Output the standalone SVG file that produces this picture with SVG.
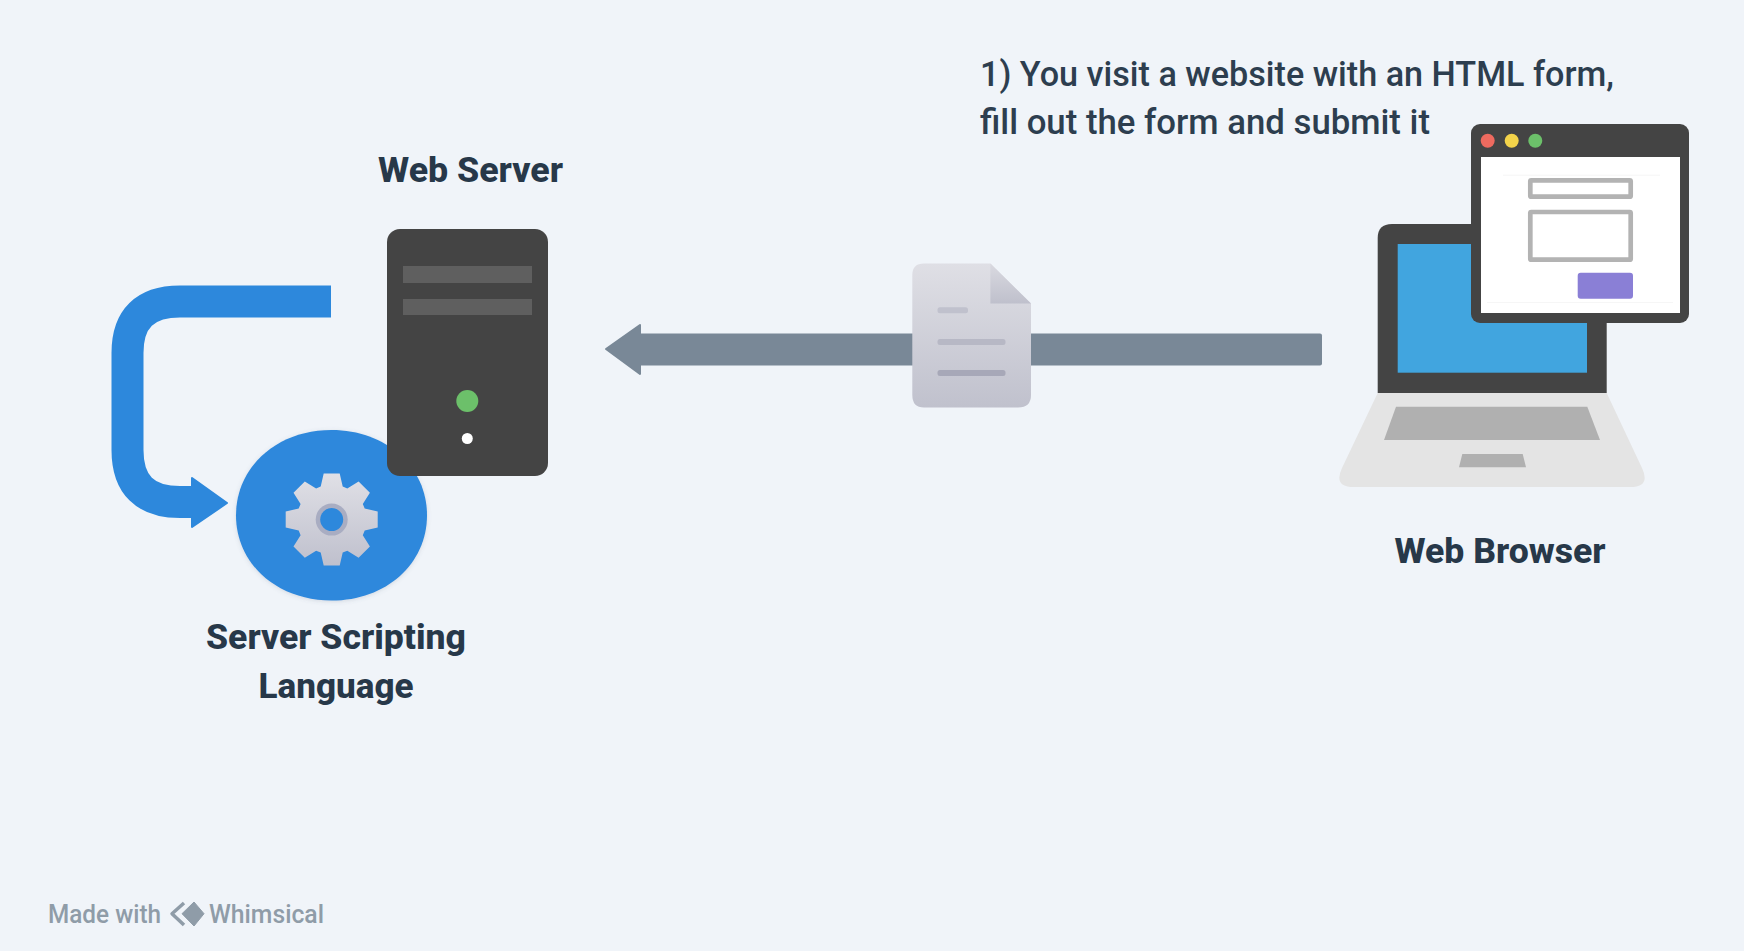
<svg xmlns="http://www.w3.org/2000/svg" width="1744" height="951" viewBox="0 0 1744 951">
<style>
text{font-family:"Roboto","Liberation Sans",sans-serif}
.lbl{font-size:35px;font-weight:800;fill:#273849;text-anchor:middle}
.note{font-size:35px;font-weight:500;fill:#2d3e4f}
.foot{font-size:25px;font-weight:500;fill:#8f9ca8}
.dark{fill:#444444}
.gray{fill:#b0b0b0}
.field{fill:#ffffff;stroke:#b3b3b3;stroke-width:4.7}
.bar{fill:#5f5f5f}
</style>
<defs>
<linearGradient id="gGear" x1="0" y1="0" x2="0" y2="1"><stop offset="0" stop-color="#e0e0e6"/><stop offset="1" stop-color="#bfc0cd"/></linearGradient>
<linearGradient id="gDoc" x1="0" y1="0" x2="0" y2="1"><stop offset="0" stop-color="#dfdfe5"/><stop offset="1" stop-color="#c0c1cd"/></linearGradient>
<linearGradient id="gFold" x1="0" y1="0" x2="0" y2="1"><stop offset="0" stop-color="#d9d9e0"/><stop offset="1" stop-color="#bfc0cc"/></linearGradient>
<filter id="soft" x="-10%" y="-10%" width="120%" height="120%"><feDropShadow dx="0" dy="1" stdDeviation="2" flood-color="#5a6a80" flood-opacity="0.2"/></filter>
</defs>
<rect width="1744" height="951" fill="#f0f4f9"/>
<g id="connectors">
<path d="M331,301.5 H180 Q127.5,301.5 127.5,353 V450 Q127.5,502 180,502 H200" fill="none" stroke="#2d88dc" stroke-width="32"/>
<polygon points="192,478 227,503 192,527" fill="#2d88dc" stroke="#2d88dc" stroke-width="2" stroke-linejoin="round"/>
<rect x="638" y="333.5" width="684" height="32" rx="2" fill="#798897"/>
<polygon points="640,325 606,349 640,374" fill="#798897" stroke="#798897" stroke-width="2" stroke-linejoin="round"/>
</g>
<g id="script-language">
<path d="M331.5,430 C386,430 427,466.7 427,515.3 C427,564 386,600.6 331.5,600.6 C277,600.6 236,564 236,515.3 C236,466.7 277,430 331.5,430Z" fill="#2d88dc" filter="url(#soft)"/>
<path transform="translate(331.7,519.6)" fill="url(#gGear)" d="M33,-11 46,-8 46,8 33,11 31.1,15.6 38.2,26.9 26.9,38.2 15.6,31.1 11,33 8,46 -8,46 -11,33 -15.6,31.1 -26.9,38.2 -38.2,26.9 -31.1,15.6 -33,11 -46,8 -46,-8 -33,-11 -31.1,-15.6 -38.2,-26.9 -26.9,-38.2 -15.6,-31.1 -11,-33 -8,-46 8,-46 11,-33 15.6,-31.1 26.9,-38.2 38.2,-26.9 31.1,-15.6Z"/>
<ellipse cx="331.7" cy="519.6" rx="16" ry="16" fill="#a9adc2"/>
<ellipse cx="331.7" cy="519.6" rx="11.5" ry="11.5" fill="#2d88dc"/>
<text class="lbl"><tspan x="336" y="649" textLength="260" lengthAdjust="spacingAndGlyphs">Server Scripting</tspan><tspan x="336" y="698" textLength="155" lengthAdjust="spacingAndGlyphs">Language</tspan></text>
</g>
<g id="web-server">
<rect class="dark" x="387" y="229" width="161" height="247" rx="13"/>
<rect class="bar" x="403" y="266" width="129" height="17"/>
<rect class="bar" x="403" y="299" width="129" height="16"/>
<circle cx="467.3" cy="401" r="11" fill="#6cc06a"/>
<circle cx="467.3" cy="438.5" r="5.5" fill="#ffffff"/>
<text class="lbl" x="470.5" y="182" textLength="185" lengthAdjust="spacingAndGlyphs">Web Server</text>
</g>
<g id="document">
<path d="M924,263.5 H990.4 L1031,303.5 V395 Q1031,407.5 1018,407.5 H924 Q912.3,407.5 912.3,395 V275 Q912.3,263.5 924,263.5Z" fill="url(#gDoc)"/>
<polygon points="990.4,263.5 1031,303.5 990.4,303.5" fill="url(#gFold)"/>
<rect x="937.5" y="307.3" width="30.5" height="6" rx="2.5" fill="#c0c1cd"/>
<rect x="937.5" y="339" width="68" height="6" rx="2.5" fill="#b7b8c5"/>
<rect x="937.5" y="370" width="68" height="6" rx="2.5" fill="#a7a8b8"/>
</g>
<g id="web-browser">
<path class="dark" d="M1377.7,393 V238 Q1377.7,224 1392,224 H1592 Q1606.7,224 1606.7,238 V393Z"/>
<rect x="1397.7" y="244" width="189.3" height="128.7" fill="#41a5df"/>
<path d="M1377.7,393 H1606.7 L1642,468 Q1651,487 1630,487 H1354 Q1333,487 1342,468Z" fill="#e4e4e4"/>
<polygon class="gray" points="1396,406.7 1587.3,406.7 1600,440 1384,440"/>
<polygon class="gray" points="1462.3,454 1522.7,454 1526,467.3 1459,467.3"/>
<rect class="dark" x="1471" y="124" width="218" height="199" rx="9"/>
<rect x="1481" y="157" width="199" height="156" fill="#ffffff"/>
<circle cx="1487.7" cy="140.7" r="7" fill="#ee6a5f"/>
<circle cx="1511.7" cy="140.7" r="7" fill="#f3d34a"/>
<circle cx="1535.3" cy="140.7" r="7" fill="#6cc06a"/>
<rect x="1503" y="174.7" width="157" height="1" fill="#f6f6f6"/>
<rect x="1487" y="302" width="186" height="1" fill="#f6f6f6"/>
<rect class="field" x="1530.3" y="180.3" width="100.4" height="16.4" rx="1"/>
<rect class="field" x="1530.3" y="212" width="100.4" height="47.7" rx="1"/>
<rect x="1577.7" y="272.7" width="55.3" height="26" rx="3" fill="#8a7fd6"/>
<text class="lbl" x="1500" y="563" textLength="211" lengthAdjust="spacingAndGlyphs">Web Browser</text>
</g>
<g id="note">
<text class="note"><tspan x="980" y="86" textLength="634" lengthAdjust="spacingAndGlyphs">1) You visit a website with an HTML form,</tspan><tspan x="980" y="134" textLength="450" lengthAdjust="spacingAndGlyphs">fill out the form and submit it</tspan></text>
</g>
<g id="footer">
<text class="foot" x="48" y="923" textLength="113" lengthAdjust="spacingAndGlyphs">Made with</text>
<path d="M184,903 L172,913.7 L184,925" fill="none" stroke="#8f9ca8" stroke-width="3.5" stroke-linejoin="round"/>
<polygon points="194,902 204,913.7 194,926 182,913.7" fill="#8f9ca8" stroke="#8f9ca8" stroke-width="1" stroke-linejoin="round"/>
<text class="foot" x="209" y="923" textLength="115" lengthAdjust="spacingAndGlyphs">Whimsical</text>
</g>
</svg>
